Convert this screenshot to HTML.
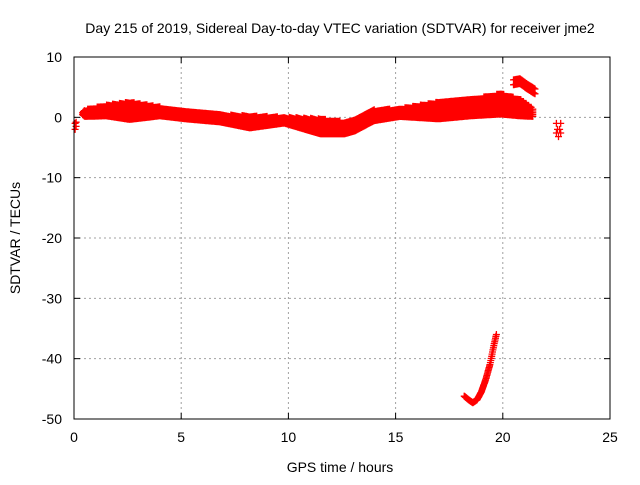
<!DOCTYPE html>
<html><head><meta charset="utf-8"><style>
body{margin:0;background:#fff}
svg text{font-family:"Liberation Sans",sans-serif;font-size:14px;fill:#000}
</style></head><body>
<svg id="c" width="640" height="480">
<rect width="640" height="480" fill="#fff"/>
<text x="340" y="33" text-anchor="middle">Day 215 of 2019, Sidereal Day-to-day VTEC variation (SDTVAR) for receiver jme2</text>
<text x="340" y="472" text-anchor="middle">GPS time / hours</text>
<text transform="translate(20,238) rotate(-90)" text-anchor="middle">SDTVAR / TECUs</text>
<g id="grid"></g><g id="marks"></g><g id="axes"></g>
</svg>
<script>
const xTicks=[0,5,10,15,20,25];
const yTicks=[10,0,-10,-20,-30,-40,-50];
const bandHours=[0.4,0.5,1.5,2.6,4,5.2,6.8,8.2,9.8,11.5,12.6,13.1,14,15.2,17,18.5,19.9,20.8,21.4];
const bandUpper=[1.2,1.5,2.3,2.8,2,1.2,0.7,0.5,0.3,0,-0.5,0,1.5,1.7,2.8,3.2,4.2,3.3,1.7];
const bandLower=[0.2,-0.1,0,-0.6,0,-0.5,-1,-2,-1.2,-3,-3,-2.5,-0.8,-0.1,-0.5,0,0.3,0,-0.1];
const upHours=[20.5,20.8,21.1,21.5];
const upValues=[5.8,6,5.2,4.3];
const dipHours=[18.2,18.4,18.6,18.8,19.0,19.2,19.4,19.6,19.7];
const dipValues=[-46.2,-46.8,-47.3,-46.8,-45.5,-43.5,-41,-37.5,-36];
const isoHours=[0.05,0.1,0.05,0.1,22.5,22.7,22.55,22.65,22.5,22.7,22.6];
const isoValues=[-1,-1.5,-2,-0.8,-1,-1,-2,-2,-2.6,-2.6,-3.2];
const X0=74,X1=610,Y0=57,Y1=419;
const sx=h=>X0+(h-0)/25*(X1-X0);
const sy=v=>Y0+(10-v)/60*(Y1-Y0);
const NS="http://www.w3.org/2000/svg";
const g=document.getElementById('grid'),m=document.getElementById('marks'),a=document.getElementById('axes');
function ln(p,x1,y1,x2,y2,st,d){const l=document.createElementNS(NS,'line');l.setAttribute('x1',x1);l.setAttribute('y1',y1);l.setAttribute('x2',x2);l.setAttribute('y2',y2);l.setAttribute('stroke',st);if(d)l.setAttribute('stroke-dasharray',d);p.appendChild(l);return l;}
function tx(p,x,y,s,anc){const t=document.createElementNS(NS,'text');t.setAttribute('x',x);t.setAttribute('y',y);t.setAttribute('text-anchor',anc);t.textContent=s;p.appendChild(t);return t;}
xTicks.forEach(h=>{const x=sx(h);
 if(h>0&&h<25){const l=ln(g,x,Y0,x,Y1,'#a0a0a0','2,3');
 
 }
 ln(a,x,Y1,x,Y1-6,'#000');ln(a,x,Y0,x,Y0+6,'#000');
 const t=tx(a,x,442,String(h),'middle');
 
 });
yTicks.forEach(v=>{const y=sy(v);
 if(v<10&&v>-50){const l=ln(g,X0,y,X1,y,'#a0a0a0','2,3');
 
 }
 ln(a,X0,y,X0+6,y,'#000');ln(a,X1,y,X1-6,y,'#000');
 const t=tx(a,62,y+5,String(v),'end');
 
 });
const fr=document.createElementNS(NS,'rect');fr.setAttribute('x',X0);fr.setAttribute('y',Y0);fr.setAttribute('width',X1-X0);fr.setAttribute('height',Y1-Y0);fr.setAttribute('fill','none');fr.setAttribute('stroke','#000');


a.appendChild(fr);
let d='';
function plus(h,v){const x=sx(h),y=sy(v);d+=`M${(x-3.5).toFixed(1)},${y.toFixed(1)}h7M${x.toFixed(1)},${(y-3.5).toFixed(1)}v7`;}
function interp(xs,ys,h){for(let i=0;i<xs.length-1;i++){if(h>=xs[i]&&h<=xs[i+1]){const t=(h-xs[i])/(xs[i+1]-xs[i]);return ys[i]+t*(ys[i+1]-ys[i]);}}return ys[ys.length-1];}
for(let h=bandHours[0];h<=bandHours[bandHours.length-1];h+=0.04){const u=interp(bandHours,bandUpper,h),l=interp(bandHours,bandLower,h);for(let v=l+0.25;v<=u-0.25+0.01;v+=0.3)plus(h,v);}
for(let h=upHours[0];h<=upHours[upHours.length-1];h+=0.04){const v=interp(upHours,upValues,h);plus(h,v+0.4);plus(h,v-0.4);}
for(let h=dipHours[0];h<=dipHours[dipHours.length-1];h+=0.02){plus(h,interp(dipHours,dipValues,h));}
isoHours.forEach((h,i)=>plus(h,isoValues[i]));
const p=document.createElementNS(NS,'path');p.setAttribute('d',d);p.setAttribute('stroke','#f00');p.setAttribute('stroke-width','1.3');p.setAttribute('fill','none');


m.appendChild(p);
</script>
</body></html>
